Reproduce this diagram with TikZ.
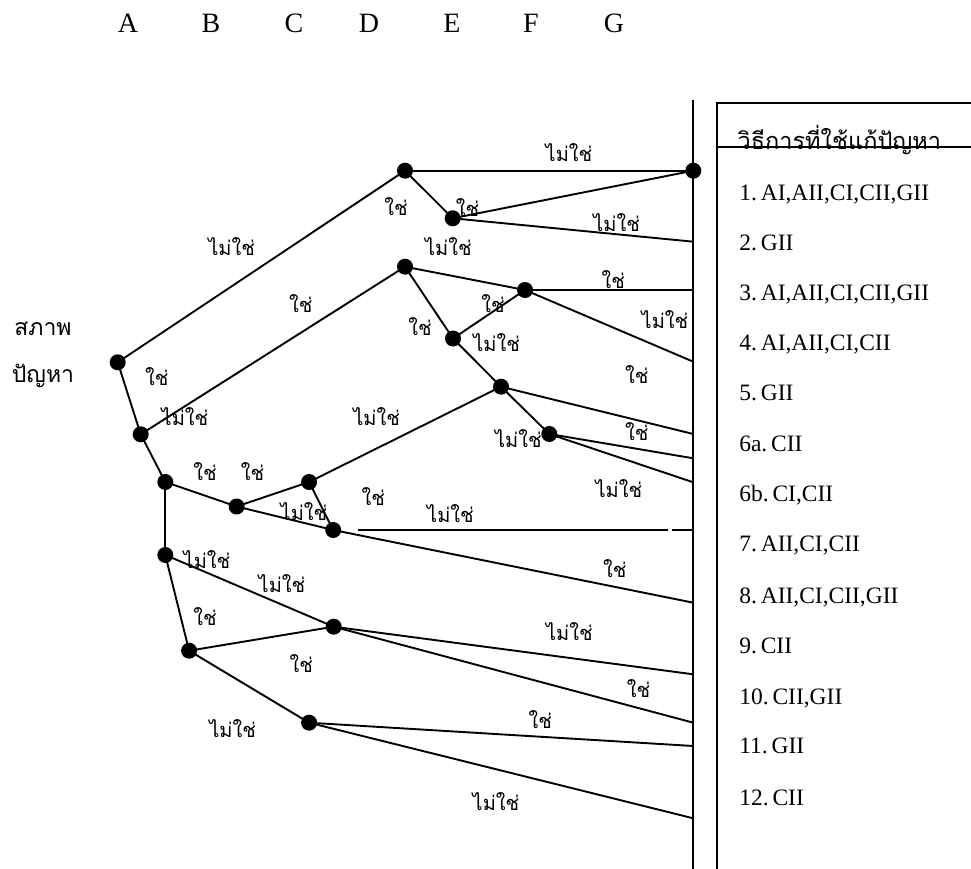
\documentclass[tikz,border=0pt]{standalone}
\usepackage{fontspec}
\setmainfont{Liberation Serif}
\newfontfamily\thaifont[Script=Thai]{Loma}
\begin{document}
\begin{tikzpicture}[x=1pt,y=-1pt,line width=1.9pt,
  dot/.style={circle,fill=black,inner sep=0pt,minimum size=16pt},
  lbl/.style={font=\thaifont\fontsize{20}{20}\selectfont,inner sep=0pt},
  colhead/.style={font=\fontsize{28}{28}\selectfont,anchor=base,inner sep=0pt},
  item/.style={font=\fontsize{23.5}{24}\selectfont,anchor=base west,inner sep=0pt}]
\useasboundingbox (0,0) rectangle (971,869);
% column letters
\foreach \t/\x in {A/128,B/211,C/294,D/369,E/452,F/531,G/614}
  \node[colhead] (col\t) at (\x,33) {\t};
% left label
\node[font=\thaifont\fontsize{23}{23}\selectfont,inner sep=0pt,anchor=base] (s1) at (43,335) {สภาพ};
\node[font=\thaifont\fontsize{23}{23}\selectfont,inner sep=0pt,anchor=base] (s2) at (43,382) {ปัญหา};
% vertical line and box
\coordinate (vtop) at (693.3,100);
\coordinate (vbot) at (693.3,869);
\draw (vtop) -- (vbot);
\coordinate (bx1) at (716.7,869);
\coordinate (bx2) at (716.7,103.3);
\coordinate (bx3) at (971,103.3);
\draw (bx1) -- (bx2) -- (bx3);
\coordinate (hl1) at (716.7,146.7);
\coordinate (hl2) at (971,146.7);
\node[font=\thaifont\fontsize{23.5}{24}\selectfont,inner sep=0pt,anchor=base west] (head) at (736.7,150) {วิธีการที่ใช้แก้ปัญหา};
\draw (hl1) -- (hl2);
% list items
\node[item] (i1) at (738.3,200.7) {1.\,AI,AII,CI,CII,GII};
\node[item] (i2) at (738.3,250.5) {2.\,GII};
\node[item] (i3) at (738.3,300.5) {3.\,AI,AII,CI,CII,GII};
\node[item] (i4) at (738.3,350.7) {4.\,AI,AII,CI,CII};
\node[item] (i5) at (738.3,400.7) {5.\,GII};
\node[item] (i6) at (738.3,451.7) {6a.\,CII};
\node[item] (i7) at (738.3,501.7) {6b.\,CI,CII};
\node[item] (i8) at (738.3,551.7) {7.\,AII,CI,CII};
\node[item] (i9) at (738.3,603.3) {8.\,AII,CI,CII,GII};
\node[item] (i10) at (738.3,653.3) {9.\,CII};
\node[item] (i11) at (738.3,704) {10.\,CII,GII};
\node[item] (i12) at (738.3,753.3) {11.\,GII};
\node[item] (i13) at (738.3,805) {12.\,CII};
% end points on the vertical line
\coordinate (e2) at (693.3,241.7);
\coordinate (e3) at (693.3,290);
\coordinate (e4) at (693.3,361.7);
\coordinate (e5) at (693.3,434);
\coordinate (e6) at (693.3,458.3);
\coordinate (e7) at (693.3,482.3);
\coordinate (h1) at (358,530);
\coordinate (h2) at (668,530);
\coordinate (h3) at (672,530);
\coordinate (e8) at (693.3,530);
\coordinate (e9) at (693.3,602.7);
\coordinate (e10) at (693.3,674.3);
\coordinate (e11) at (693.3,722.7);
\coordinate (e12) at (693.3,746);
\coordinate (e13) at (693.3,818.3);
% node positions
\coordinate (n0) at (117.7,362.3);
\coordinate (n1) at (405,170.7);
\coordinate (n2) at (452.7,218.3);
\coordinate (nR) at (693.3,170.7);
\coordinate (n3) at (405,266.7);
\coordinate (n4) at (525,290);
\coordinate (n5) at (453,338.5);
\coordinate (n6) at (501,386.7);
\coordinate (n7) at (549.3,434);
\coordinate (n8) at (140.7,434.3);
\coordinate (n9) at (165.3,482);
\coordinate (n10) at (236.6,506.5);
\coordinate (n11) at (309.1,482);
\coordinate (n12) at (333.2,530);
\coordinate (n13) at (165.3,555);
\coordinate (n14) at (333.7,626.7);
\coordinate (n15) at (189.1,650.7);
\coordinate (n16) at (309.1,722.7);
% connectors
\draw (n0) -- (n1);
\draw (n0) -- (n8);
\draw (n1) -- (nR);
\draw (n1) -- (n2);
\draw (n2) -- (nR);
\draw (n2) -- (e2);
\draw (n8) -- (n3);
\draw (n8) -- (n9);
\draw (n3) -- (n4);
\draw (n3) -- (n5);
\draw (n4) -- (e3);
\draw (n4) -- (e4);
\draw (n5) -- (n4);
\draw (n5) -- (n6);
\draw (n6) -- (e5);
\draw (n6) -- (n7);
\draw (n7) -- (e6);
\draw (n7) -- (e7);
\draw (n9) -- (n10);
\draw (n9) -- (n13);
\draw (n10) -- (n11);
\draw (n10) -- (n12);
\draw (n11) -- (n6);
\draw (n11) -- (n12);
\draw (n12) -- (e9);
\draw (h1) -- (h2);
\draw (h3) -- (e8);
\draw (n13) -- (n14);
\draw (n13) -- (n15);
\draw (n15) -- (n14);
\draw (n15) -- (n16);
\draw (n14) -- (e10);
\draw (n14) -- (e11);
\draw (n16) -- (e12);
\draw (n16) -- (e13);
% dots
\foreach \n in {n0,n1,n2,nR,n3,n4,n5,n6,n7,n8,n9,n10,n11,n12,n13,n14,n15,n16}
  \node[dot] (d\n) at (\n) {};
% labels
\node[lbl] (l1) at (231.7,246.7) {ไม่ใช่};
\node[lbl] (l2) at (396,206.7) {ใช่};
\node[lbl] (l3) at (448.3,246.7) {ไม่ใช่};
\node[lbl] (l4) at (300.7,303.3) {ใช่};
\node[lbl] (l5) at (420,326.7) {ใช่};
\node[lbl] (l6) at (156.7,376.7) {ใช่};
\node[lbl] (l7) at (185,416.7) {ไม่ใช่};
\node[lbl] (l8) at (376.7,416.7) {ไม่ใช่};
\node[lbl] (l9) at (493,303.3) {ใช่};
\node[lbl] (l10) at (467.5,207.5) {ใช่};
\node[lbl] (l11) at (569,152.5) {ไม่ใช่};
\node[lbl] (l12) at (616.7,222.5) {ไม่ใช่};
\node[lbl] (l13) at (613.3,280) {ใช่};
\node[lbl] (l14) at (665,320) {ไม่ใช่};
\node[lbl] (l15) at (496.7,342.7) {ไม่ใช่};
\node[lbl] (l16) at (636.7,375) {ใช่};
\node[lbl] (l17) at (518.3,438.3) {ไม่ใช่};
\node[lbl] (l18) at (636.7,431.7) {ใช่};
\node[lbl] (l19) at (205,471.7) {ใช่};
\node[lbl] (l20) at (252.5,471.7) {ใช่};
\node[lbl] (l21) at (304,511.7) {ไม่ใช่};
\node[lbl] (l22) at (373.3,496.7) {ใช่};
\node[lbl] (l23) at (450.5,513.3) {ไม่ใช่};
\node[lbl] (l24) at (618.8,488.3) {ไม่ใช่};
\node[lbl] (l25) at (207,560) {ไม่ใช่};
\node[lbl] (l26) at (282,583.3) {ไม่ใช่};
\node[lbl] (l27) at (205,616.7) {ใช่};
\node[lbl] (l28) at (614.9,568.3) {ใช่};
\node[lbl] (l29) at (569.3,631.7) {ไม่ใช่};
\node[lbl] (l30) at (301.2,663.3) {ใช่};
\node[lbl] (l31) at (638.6,688.3) {ใช่};
\node[lbl] (l32) at (540.4,720) {ใช่};
\node[lbl] (l33) at (232.7,728.3) {ไม่ใช่};
\node[lbl] (l34) at (496,801.7) {ไม่ใช่};
\end{tikzpicture}
\end{document}
